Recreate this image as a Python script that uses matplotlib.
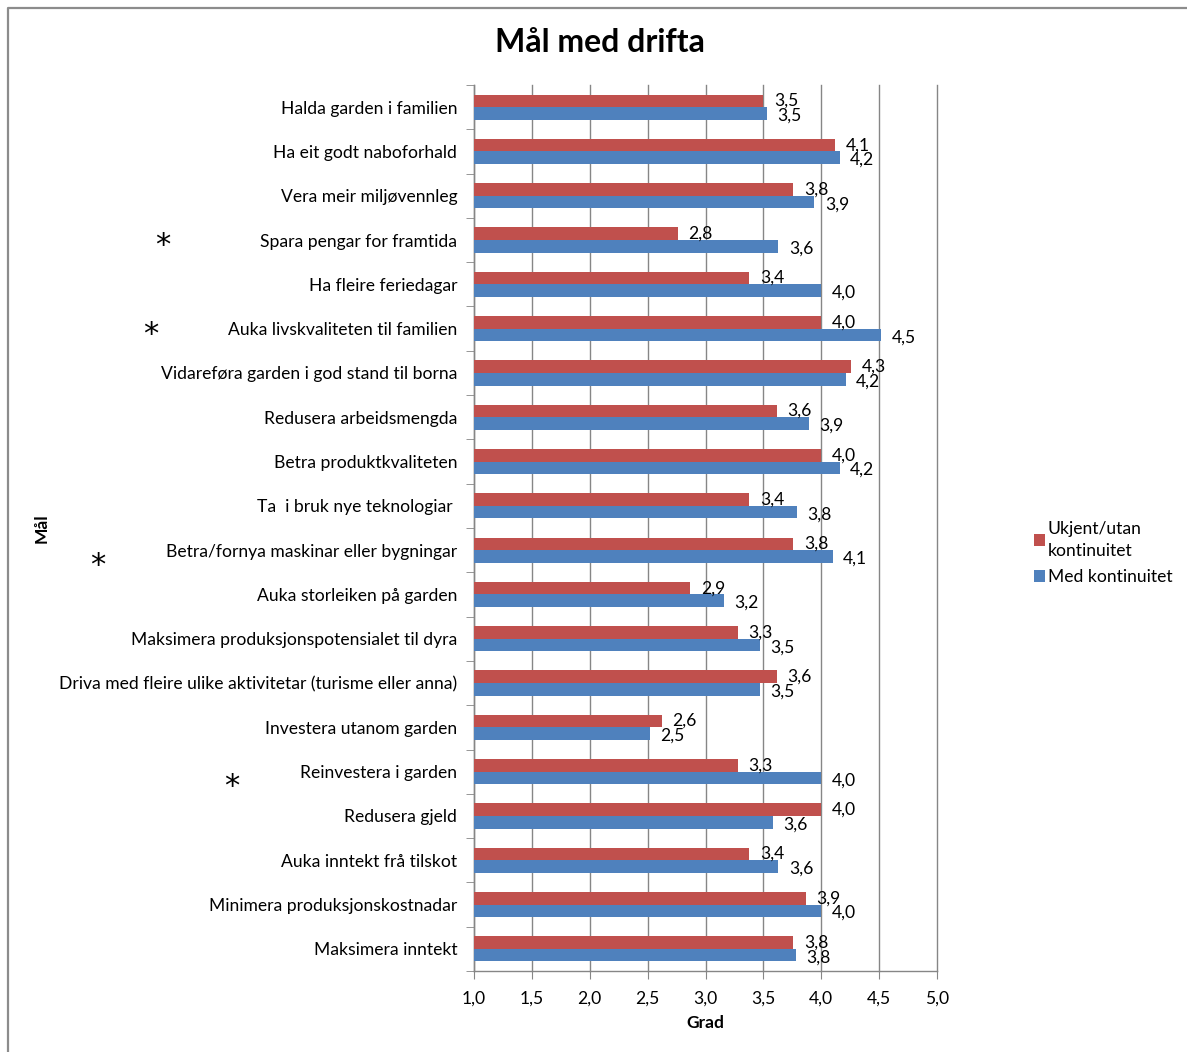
import numpy as np
import matplotlib

matplotlib.use("Agg")
import matplotlib.pyplot as plt
from matplotlib.lines import Line2D
from matplotlib.transforms import blended_transform_factory

# categories listed top to bottom as in the chart
categories = [
    "Halda garden i familien",
    "Ha eit godt naboforhald",
    "Vera meir miljøvennleg",
    "Spara pengar for framtida",
    "Ha fleire feriedagar",
    "Auka livskvaliteten til familien",
    "Vidareføra garden i god stand til borna",
    "Redusera arbeidsmengda",
    "Betra produktkvaliteten",
    "Ta  i bruk nye teknologiar ",
    "Betra/fornya maskinar eller bygningar",
    "Auka storleiken på garden",
    "Maksimera produksjonspotensialet til dyra",
    "Driva med fleire ulike aktivitetar (turisme eller anna)",
    "Investera utanom garden",
    "Reinvestera i garden",
    "Redusera gjeld",
    "Auka inntekt frå tilskot",
    "Minimera produksjonskostnadar",
    "Maksimera inntekt",
]
ukjent = [3.50, 4.12, 3.76, 2.76, 3.38, 4.00, 4.26, 3.62, 4.00, 3.38,
          3.76, 2.87, 3.28, 3.62, 2.62, 3.28, 4.00, 3.38, 3.87, 3.76]
med = [3.53, 4.16, 3.94, 3.63, 4.00, 4.52, 4.21, 3.89, 4.16, 3.79,
       4.10, 3.16, 3.47, 3.47, 2.52, 4.00, 3.58, 3.63, 4.00, 3.78]
starred = ["Spara pengar for framtida", "Auka livskvaliteten til familien",
           "Betra/fornya maskinar eller bygningar", "Reinvestera i garden"]
star_x = [0.137, 0.127, 0.082, 0.195]
star_dy = [0.13, 0.13, 0.35, 0.33]
x_ticks = [1.0, 1.5, 2.0, 2.5, 3.0, 3.5, 4.0, 4.5, 5.0]

RED = "#C0504D"
BLUE = "#4F81BD"
GRID = "#868686"
FS = 12.6

plt.rcParams.update({"font.family": "Lato", "font.size": FS})

fig = plt.figure(figsize=(11.87, 10.52), dpi=100)
# chart border: only left and top edges are visible
bx, by = 7.5 / 1187, 1 - 7.5 / 1052
fig.lines.append(Line2D([bx, bx, 1.0], [0.0, by, by], transform=fig.transFigure,
                        color="#8c8c8c", linewidth=1.6))
ax = fig.add_axes([474 / 1187, 81 / 1052, 463 / 1187, 886 / 1052])

n = len(categories)
y = np.arange(n)
h = 0.285
ax.barh(y - h / 2, ukjent, height=h, color=RED, label="Ukjent/utan\nkontinuitet", zorder=3)
ax.barh(y + h / 2, med, height=h, color=BLUE, label="Med kontinuitet", zorder=3)


def fmt(v):
    return f"{v:.1f}".replace(".", ",")


for i in range(n):
    ax.annotate(fmt(ukjent[i]), (ukjent[i], y[i] - h / 2), xytext=(7.5, 0),
                textcoords="offset points", va="center", ha="left", fontsize=FS)
    ax.annotate(fmt(med[i]), (med[i], y[i] + h / 2 + 0.05), xytext=(7.5, 0),
                textcoords="offset points", va="center", ha="left", fontsize=FS)

ax.set_xlim(1.0, 5.0)
ax.set_ylim(n - 0.5, -0.5)
ax.set_xticks(x_ticks)
ax.set_xticklabels([fmt(t) for t in x_ticks])
ax.set_yticks(y)
ax.set_yticklabels(categories)
ax.set_yticks(np.arange(-0.5, n, 1.0), minor=True)
ax.tick_params(axis="y", which="major", length=0, pad=12)
ax.tick_params(axis="y", which="minor", length=6, color=GRID, direction="out")
ax.tick_params(axis="x", length=6, color=GRID, direction="out", pad=8)

ax.grid(axis="x", color=GRID, linewidth=1.0, zorder=0)
for line in ax.get_xgridlines():
    line.set_clip_on(False)
for side in ["top", "right"]:
    ax.spines[side].set_visible(False)
for side in ["left", "bottom"]:
    ax.spines[side].set_color(GRID)
    ax.spines[side].set_linewidth(1.0)

ax.set_xlabel("Grad", fontweight="bold", fontsize=12.5, labelpad=6)
fig.text(42 / 1187, 1 - 528 / 1052, "Mål", rotation=90, fontweight="bold",
         fontsize=12.5, ha="center", va="center")
fig.text(600 / 1187, 1 - 43 / 1052, "Mål med drifta", fontweight="bold",
         fontsize=23, ha="center", va="center")

trans = blended_transform_factory(fig.transFigure, ax.transData)
for name, sx, dy in zip(starred, star_x, star_dy):
    idx = categories.index(name)
    fig.text(sx, idx + dy, "*", transform=trans, fontsize=22,
             family="DejaVu Sans", ha="center", va="center")

leg = fig.legend(loc="upper left", bbox_to_anchor=(1018 / 1187, 1 - 505 / 1052),
                 frameon=False, handlelength=0.65, handleheight=0.65,
                 handletextpad=0.15, labelspacing=0.6, fontsize=FS)
for text in leg.get_texts():
    text.set_linespacing(1.45)

fig.savefig("out.png", dpi=100, facecolor="white")
